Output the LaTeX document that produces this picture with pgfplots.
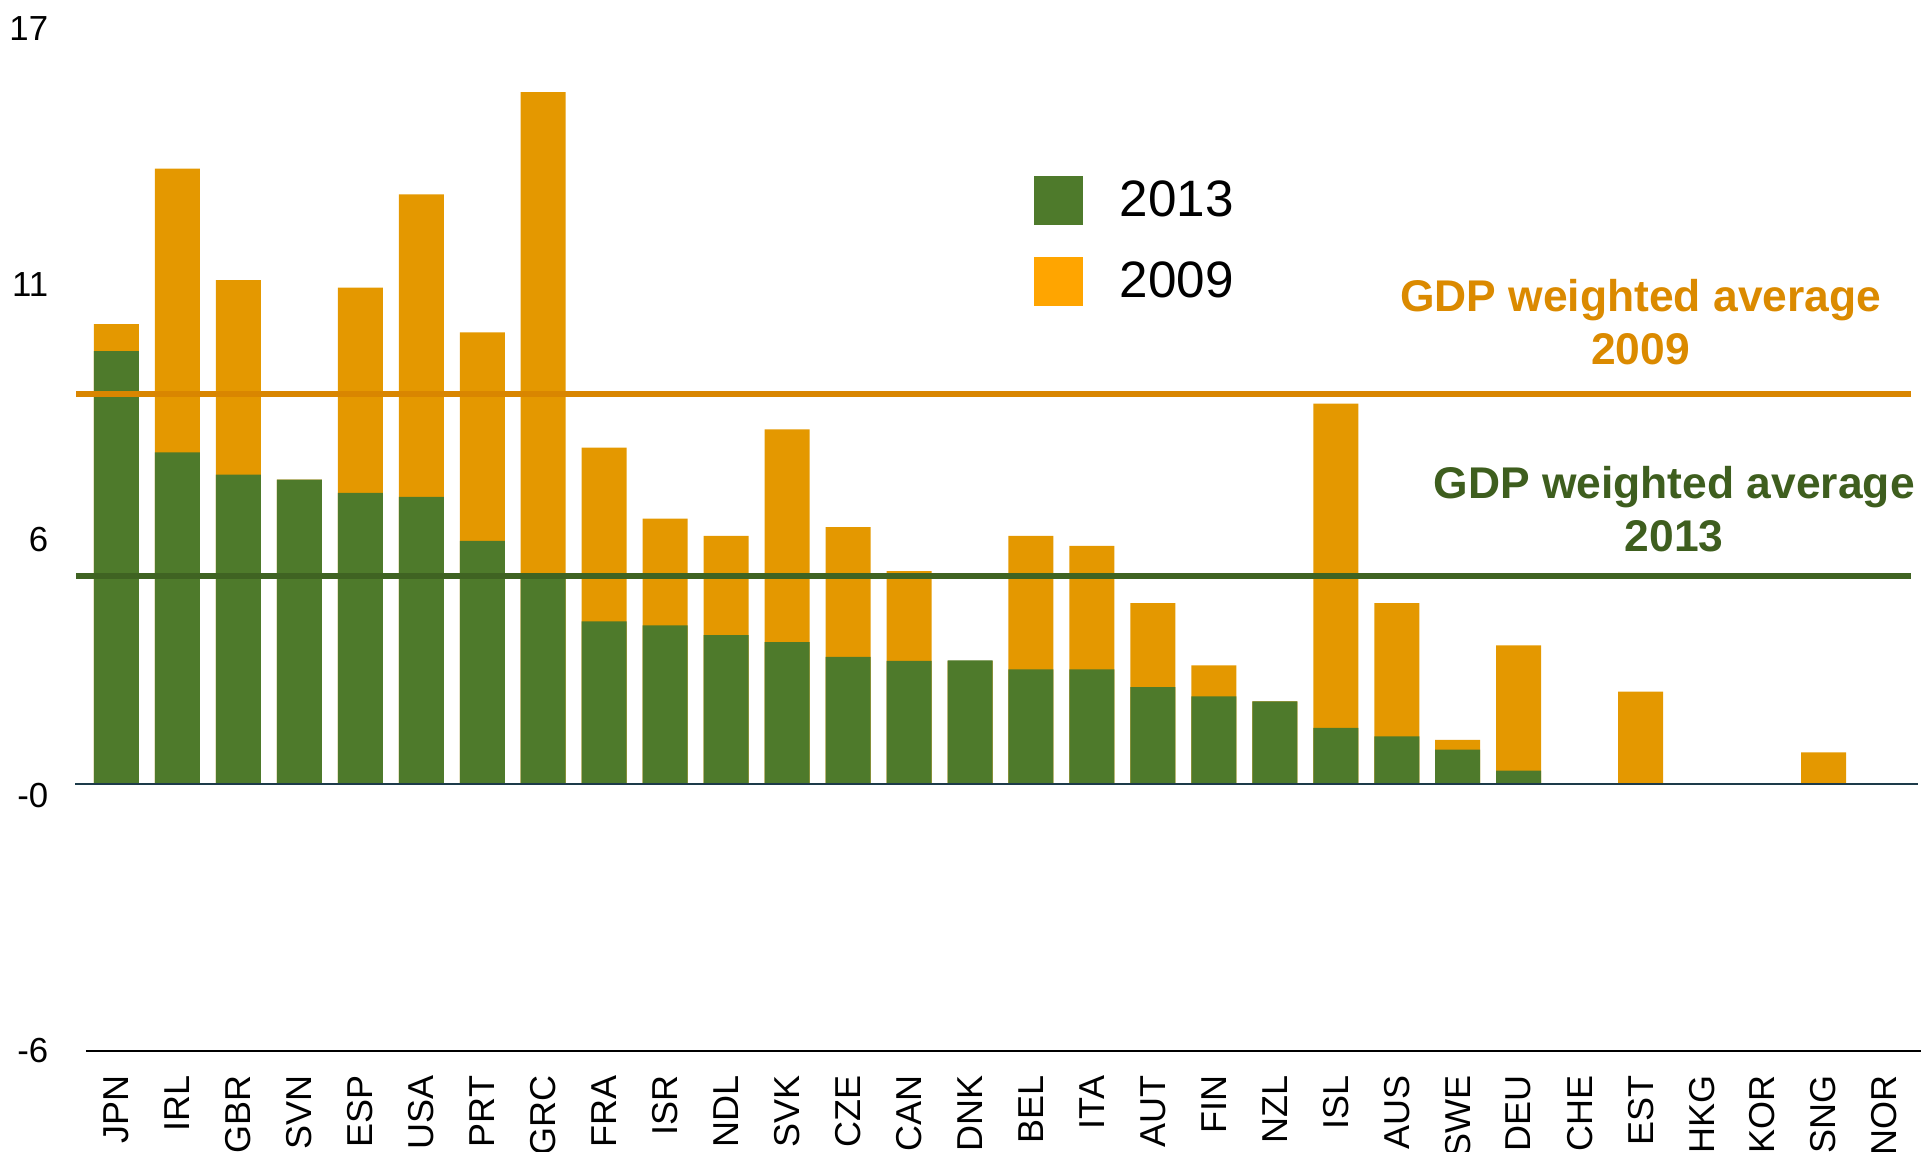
\documentclass[border=0pt]{standalone}
\usepackage{pgfplots}
\pgfplotsset{compat=1.18}
\usepackage{fontspec}
\setmainfont{Liberation Sans}
\definecolor{bargreen}{RGB}{78,122,43}
\definecolor{barorange}{RGB}{228,152,0}
\definecolor{legorange}{RGB}{255,165,0}
\definecolor{lineorange}{RGB}{217,134,0}
\definecolor{textorange}{RGB}{219,138,0}
\definecolor{linegreen}{RGB}{63,99,34}
\definecolor{textgreen}{RGB}{62,94,30}
\definecolor{zeroline}{RGB}{29,59,74}
\begin{document}
\begin{tikzpicture}
\path[use as bounding box, clip] (-21.5pt,-25.25pt) rectangle (458.75pt,262.75pt);
\begin{axis}[
  at={(0pt,0pt)}, anchor=south west,
  scale only axis, width=457.25pt, height=255.5pt,
  xmin=-0.5, xmax=29.5, ymin=-6, ymax=17,
  axis line style={draw=none},
  major tick length=0pt,
  xtick={0,...,29},
  xticklabels={JPN,IRL,GBR,SVN,ESP,USA,PRT,GRC,FRA,ISR,NDL,SVK,CZE,CAN,DNK,BEL,ITA,AUT,FIN,NZL,ISL,AUS,SWE,DEU,CHE,EST,HKG,KOR,SNG,NOR},
  ytick={-6,-0.25,5.5,11.25,17},
  yticklabels={-6,-0,6,11,17},
  xticklabel style={rotate=90, anchor=east, inner sep=0pt, font=\fontsize{9}{10}\selectfont},
  xticklabel shift=6pt,
  yticklabel style={anchor=east, inner sep=0pt, font=\fontsize{8.7}{10}\selectfont},
  yticklabel shift=9.25pt,
  clip=false,
  legend image code/.code={\fill[#1] (0pt,-5.8pt) rectangle (12.2pt,6.4pt); \path (21.45pt,0pt);},
  legend style={draw=none, fill=none, at={(0.5183,0.8562)}, anchor=north west,
    inner sep=0pt, outer sep=0pt, row sep=8.05pt,
    nodes={inner sep=0pt, font=\fontsize{12.8}{14}\selectfont}},
  legend cell align=left,
]
\addlegendimage{fill=bargreen, draw=none}
\addlegendentry{2013}
\addlegendimage{fill=legorange, draw=none}
\addlegendentry{2009}

% 2009 values (behind)
\addplot[ybar, bar width=11.25pt, bar shift=0pt, fill=barorange, draw=none, forget plot] coordinates {
(0,10.36) (1,13.86) (2,11.35) (3,6.86) (4,11.18) (5,13.28) (6,10.17) (7,15.58)
(8,7.58) (9,5.98) (10,5.59) (11,7.99) (12,5.79) (13,4.80) (14,2.78) (15,5.59)
(16,5.37) (17,4.08) (18,2.68) (19,1.87) (20,8.57) (21,4.08) (22,1.00) (23,3.13)
(24,0.03) (25,2.09) (26,0) (27,0) (28,0.72) (29,0)
};
% 2013 values (front)
\addplot[ybar, bar width=11.25pt, bar shift=0pt, fill=bargreen, draw=none, forget plot] coordinates {
(0,9.75) (1,7.47) (2,6.97) (3,6.86) (4,6.56) (5,6.47) (6,5.48) (7,4.71)
(8,3.67) (9,3.58) (10,3.36) (11,3.20) (12,2.87) (13,2.78) (14,2.79) (15,2.59)
(16,2.59) (17,2.19) (18,1.98) (19,1.87) (20,1.27) (21,1.08) (22,0.78) (23,0.31)
(24,0) (25,0) (26,0) (27,0) (28,0) (29,0)
};
% GDP weighted averages
\addplot[lineorange, line width=1.5pt, forget plot] coordinates {(-0.66,8.78) (29.44,8.78)};
\addplot[linegreen, line width=1.5pt, forget plot] coordinates {(-0.66,4.68) (29.44,4.68)};

\draw[zeroline, line width=0.55pt] (axis cs:-0.68,0) -- (axis cs:29.55,0);
\draw[black, line width=0.7pt] (axis cs:-0.5,-6) -- (axis cs:29.7,-6);

\node[align=center, font=\bfseries\fontsize{11.1}{13.2}\selectfont, text=textorange] at (axis cs:25.0,10.40) {GDP weighted average\\2009};
\node[align=center, font=\bfseries\fontsize{11.1}{13.2}\selectfont, text=textgreen] at (axis cs:25.55,6.19) {GDP weighted average\\2013};
\end{axis}
\end{tikzpicture}
\end{document}
